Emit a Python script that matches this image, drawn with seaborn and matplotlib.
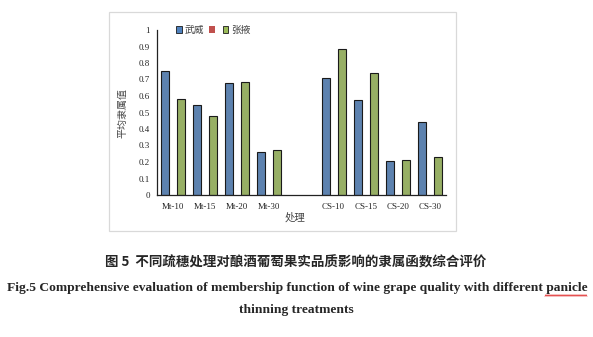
import matplotlib
matplotlib.use("Agg")
import matplotlib.pyplot as plt
from matplotlib.patches import Patch, Rectangle
from matplotlib.lines import Line2D
import numpy as np
import pandas as pd
import seaborn as sns

# Treatments (a blank slot separates the Mt and CS groups)
treatments = ["Mt-10", "Mt-15", "Mt-20", "Mt-30", "CS-10", "CS-15", "CS-20", "CS-30"]
category_order = ["Mt-10", "Mt-15", "Mt-20", "Mt-30", "", "CS-10", "CS-15", "CS-20", "CS-30"]

# Average membership values per site
wuwei = [0.753, 0.544, 0.677, 0.262, 0.707, 0.574, 0.206, 0.440]
zhangye = [0.580, 0.480, 0.685, 0.270, 0.883, 0.739, 0.214, 0.228]

sites = ["武威", "空白", "张掖"]
site_colors = {"武威": "#4F81BD", "空白": "#C0504D", "张掖": "#9BBB59"}

df = pd.DataFrame({
    "处理": treatments * 2,
    "地点": ["武威"] * len(treatments) + ["张掖"] * len(treatments),
    "平均隶属值": wuwei + zhangye,
})

sns.set_style("white")
plt.rcParams["font.family"] = ["Liberation Serif", "Noto Sans CJK SC"]
plt.rcParams["axes.unicode_minus"] = False

fig = plt.figure(figsize=(5.93, 3.37), dpi=100)
ax = fig.add_axes([157 / 593, 1 - 195 / 337, 289 / 593, 165 / 337])

sns.barplot(
    data=df, x="处理", y="平均隶属值", hue="地点",
    order=category_order, hue_order=sites, palette=site_colors,
    width=0.75, edgecolor="#1a1a1a", linewidth=0.8,
    errorbar=None, legend=False, ax=ax,
)

ax.set_ylim(0, 1)
ax.set_xlim(-0.5, len(category_order) - 0.5)
ax.set_yticks(np.round(np.arange(0, 1.01, 0.1), 1))
ax.set_yticklabels(["0"] + [f"{v:.1f}" for v in np.arange(0.1, 0.95, 0.1)] + ["1"])
ax.tick_params(axis="y", direction="in", length=3, width=0.8, labelsize=6.5, pad=5, color="#333333")
ax.tick_params(axis="x", which="major", length=0, labelsize=6.5, pad=6)
ax.set_xticks(np.arange(-0.5, len(category_order), 1.0), minor=True)
ax.tick_params(axis="x", which="minor", direction="out", length=2.5, width=0.8, color="#333333")

for side in ("top", "right"):
    ax.spines[side].set_visible(False)
for side in ("left", "bottom"):
    ax.spines[side].set_color("#222222")
    ax.spines[side].set_linewidth(0.9)

ax.set_ylabel("平均隶属值", fontsize=7.2, color="#444444",
              family=["Noto Sans CJK SC"])
ax.yaxis.set_label_coords((122 - 157) / 289, 0.5)
ax.set_xlabel("处理", fontsize=7.5, color="#444444",
              family=["Noto Sans CJK SC"])
ax.xaxis.set_label_coords((295 - 157) / 289, -(218 - 195) / 165)
ax.xaxis.label.set_va("center")
ax.yaxis.label.set_va("center")

handles = [
    Patch(facecolor=site_colors["武威"], edgecolor="#1a1a1a", linewidth=0.6, label="武威"),
    Patch(facecolor=site_colors["空白"], edgecolor="none", label=""),
    Patch(facecolor=site_colors["张掖"], edgecolor="#1a1a1a", linewidth=0.6, label="张掖"),
]
leg = ax.legend(handles=handles, loc="center left", bbox_to_anchor=(0.035, 1.0),
                ncol=3, frameon=False, handlelength=0.6, handleheight=0.6,
                handletextpad=0.3, columnspacing=0.5,
                prop={"family": ["Noto Sans CJK SC"], "size": 7})
for t in leg.get_texts():
    t.set_color("#444444")

# Light frame around the chart area
fig.patches.append(Rectangle((109 / 593, 1 - 231 / 337), 347 / 593, 219 / 337,
                             transform=fig.transFigure, fill=False,
                             edgecolor="#d9d9d9", linewidth=0.9))

fig.text(296 / 593, 1 - 263 / 337,
         "图 5  不同疏穗处理对酿酒葡萄果实品质影响的隶属函数综合评价",
         ha="center", va="center", fontsize=9.7, fontweight="bold",
         family=["Noto Sans CJK SC"])
fig.text(297 / 593, 1 - 288 / 337,
         "Fig.5 Comprehensive evaluation of membership function of wine grape quality with different panicle",
         ha="center", va="center", fontsize=9.7, fontweight="bold",
         family=["Liberation Serif"])
fig.text(296 / 593, 1 - 310 / 337, "thinning treatments",
         ha="center", va="center", fontsize=9.7, fontweight="bold",
         family=["Liberation Serif"])

# Spell-check squiggle under "panicle"
sx = np.linspace(545, 587, 43)
sy = 295.5 + 0.8 * np.where(np.arange(sx.size) % 2 == 0, 1, -1)
fig.add_artist(Line2D(sx / 593, 1 - sy / 337, transform=fig.transFigure,
                      color="#e03030", linewidth=0.6))

fig.savefig("out.png", dpi=100, facecolor="white")
